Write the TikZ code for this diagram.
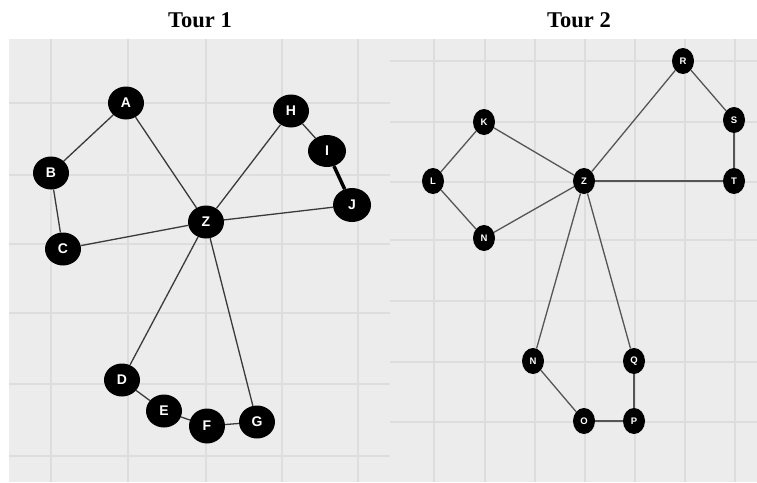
\documentclass[tikz,border=0pt]{standalone}
\usepackage{fontspec}
\setmainfont{Liberation Serif}
\newfontfamily\nodefont{Liberation Sans}
\usetikzlibrary{shapes.geometric}
\definecolor{panelgray}{HTML}{ECECEC}
\definecolor{gridgray}{HTML}{DDDDDD}
\definecolor{edgedark}{HTML}{3A3A3A}
\definecolor{edgemid}{HTML}{555555}

\begin{document}
\begin{tikzpicture}[x=1pt,y=-1pt,
  title/.style={font=\bfseries\fontsize{22.5}{24}\selectfont, anchor=base, inner sep=0pt},
  gridline/.style={draw=gridgray, line width=1.3pt},
  bignode/.style={ellipse, fill=black, inner sep=0pt, minimum width=36pt, minimum height=33pt,
    text=white, font=\nodefont\bfseries\fontsize{14}{14}\selectfont},
  smallnode/.style={ellipse, fill=black, inner sep=0pt, minimum width=22pt, minimum height=26pt,
    text=white, font=\nodefont\bfseries\fontsize{9.5}{10}\selectfont},
  thinedge/.style={draw=edgedark, line width=1.3pt},
  heavyedge/.style={draw=black, line width=3.5pt},
  rightedge/.style={draw=edgemid, line width=1.3pt},
  rightheavy/.style={draw=edgemid, line width=2.2pt}
]
\useasboundingbox (0,0) rectangle (757,482);

% headings
\node[title] (t1) at (200,27) {Tour 1};
\node[title] (t2) at (579,27) {Tour 2};

% panels
\fill[panelgray] (9,39) rectangle (390,482);
\fill[panelgray] (390,39) rectangle (757,482);

% grid of the first panel
\foreach \gx in {51,128,206,282,358} \draw[gridline] (\gx,39) -- (\gx,482);
\foreach \gy in {103,175,244,313,384,456} \draw[gridline] (9,\gy) -- (390,\gy);

% grid of the second panel
\foreach \gx in {434,485,535,585,635,685,735} \draw[gridline] (\gx,39) -- (\gx,482);
\foreach \gy in {61,122,182,240,301,362,422} \draw[gridline] (390,\gy) -- (757,\gy);

% first tour
\node[bignode] (A) at (126,103) {A};
\node[bignode] (B) at (51,173) {B};
\node[bignode] (C) at (63,249) {C};
\node[bignode] (Z1) at (206,222) {Z};
\node[bignode] (H) at (291,111) {H};
\node[bignode, minimum width=38pt, minimum height=32pt] (I) at (327,151) {I};
\node[bignode, minimum width=38pt, minimum height=34pt] (J) at (352,205) {J};
\node[bignode] (D) at (122,380) {D};
\node[bignode] (E) at (164,411) {E};
\node[bignode, minimum height=35pt] (F) at (207,426) {F};
\node[bignode] (G) at (257,422) {G};

\draw[thinedge] (A) -- (B);
\draw[thinedge] (B) -- (C);
\draw[thinedge] (C) -- (Z1);
\draw[thinedge] (A) -- (Z1);
\draw[thinedge] (H) -- (Z1);
\draw[thinedge] (H) -- (I);
\draw[heavyedge] (I) -- (J);
\draw[thinedge] (J) -- (Z1);
\draw[thinedge] (Z1) -- (D);
\draw[thinedge] (Z1) -- (G);
\draw[thinedge] (D) -- (E);
\draw[thinedge] (E) -- (F);
\draw[thinedge] (F) -- (G);

% second tour
\node[smallnode] (R) at (683,61) {R};
\node[smallnode] (S) at (734,120) {S};
\node[smallnode] (T) at (734,181) {T};
\node[smallnode] (K) at (484,122) {K};
\node[smallnode] (L) at (433,181) {L};
\node[smallnode] (Z2) at (584,181) {Z};
\node[smallnode] (N1) at (484,238) {N};
\node[smallnode] (N2) at (533,361) {N};
\node[smallnode] (Q) at (634,361) {Q};
\node[smallnode] (O) at (584,421) {O};
\node[smallnode] (P) at (634,421) {P};

\draw[rightedge] (R) -- (Z2);
\draw[rightedge] (R) -- (S);
\draw[rightedge] (S) -- (T);
\draw[rightheavy] (T) -- (Z2);
\draw[rightedge] (K) -- (Z2);
\draw[rightedge] (K) -- (L);
\draw[rightedge] (L) -- (N1);
\draw[rightedge] (N1) -- (Z2);
\draw[rightedge] (Z2) -- (N2);
\draw[rightedge] (Z2) -- (Q);
\draw[rightedge] (N2) -- (O);
\draw[rightedge] (O) -- (P);
\draw[rightedge] (P) -- (Q);
\end{tikzpicture}
\end{document}
